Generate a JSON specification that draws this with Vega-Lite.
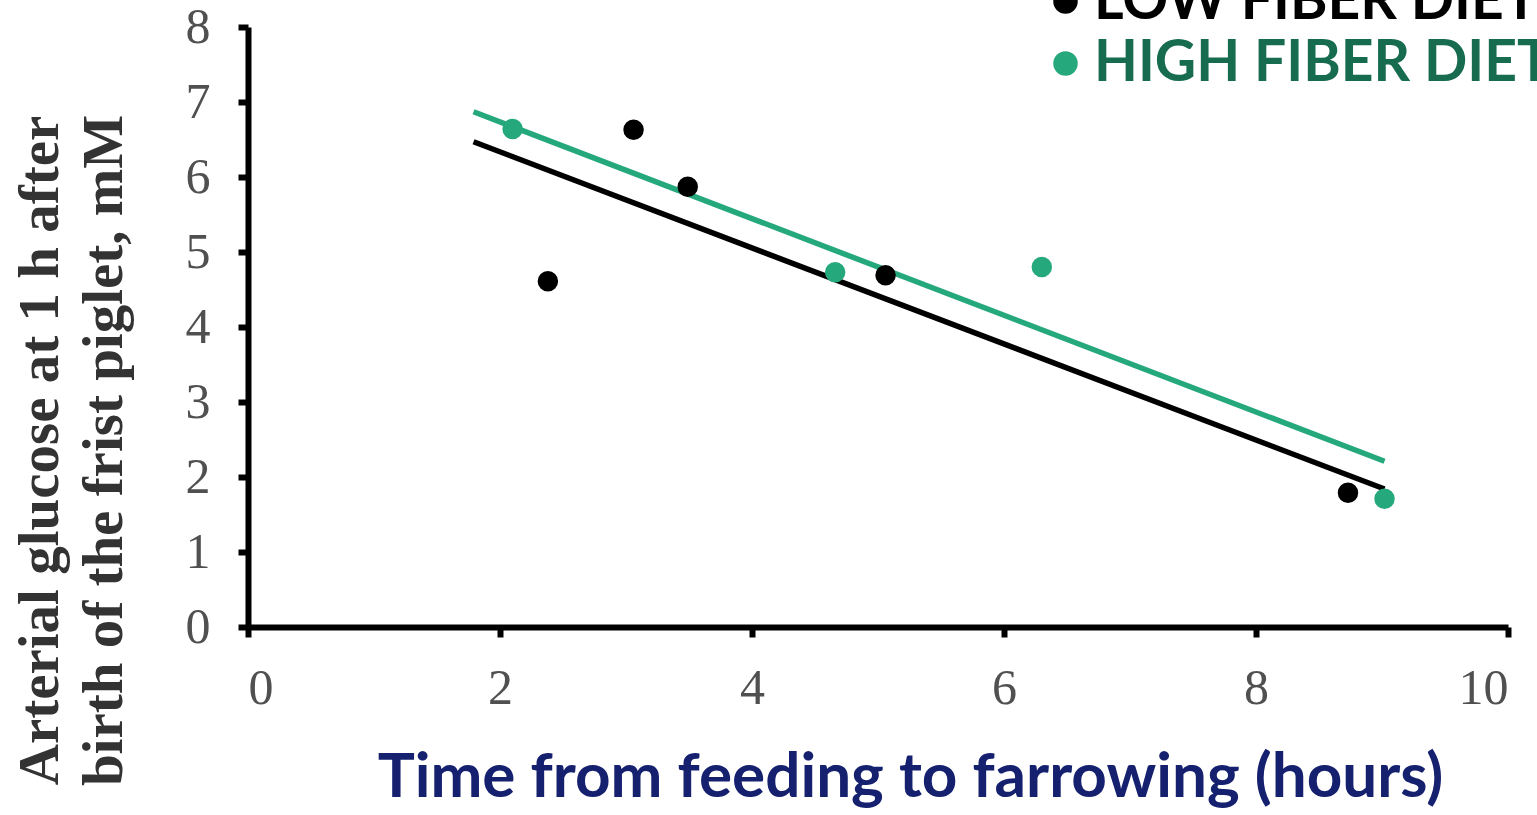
{
  "$schema": "https://vega.github.io/schema/vega-lite/v6.json",
  "width": 1260,
  "height": 600,
  "autosize": "none",
  "padding": {"left": 248, "top": 27, "right": 29, "bottom": 188},
  "background": "white",
  "config": {
    "view": {"stroke": null},
    "axis": {
      "grid": false,
      "domainColor": "#000000",
      "domainWidth": 6,
      "tickColor": "#000000",
      "tickWidth": 6,
      "tickSize": 10,
      "labelFont": "Liberation Serif",
      "labelFontSize": 50,
      "labelColor": "#505050"
    }
  },
  "datasets": {
    "obs": [
      {"hours": 2.38, "glucose": 4.61, "diet": "LOW FIBER DIET"},
      {"hours": 3.06, "glucose": 6.63, "diet": "LOW FIBER DIET"},
      {"hours": 3.49, "glucose": 5.87, "diet": "LOW FIBER DIET"},
      {"hours": 5.06, "glucose": 4.69, "diet": "LOW FIBER DIET"},
      {"hours": 8.73, "glucose": 1.79, "diet": "LOW FIBER DIET"},
      {"hours": 2.1, "glucose": 6.64, "diet": "HIGH FIBER DIET"},
      {"hours": 4.66, "glucose": 4.73, "diet": "HIGH FIBER DIET"},
      {"hours": 6.3, "glucose": 4.8, "diet": "HIGH FIBER DIET"},
      {"hours": 9.02, "glucose": 1.71, "diet": "HIGH FIBER DIET"}
    ],
    "trend": [
      {"hours": 1.79, "glucose": 6.47, "diet": "LOW FIBER DIET"},
      {"hours": 9.02, "glucose": 1.84, "diet": "LOW FIBER DIET"},
      {"hours": 1.79, "glucose": 6.87, "diet": "HIGH FIBER DIET"},
      {"hours": 9.02, "glucose": 2.21, "diet": "HIGH FIBER DIET"}
    ]
  },
  "encoding": {
    "x": {
      "field": "hours",
      "type": "quantitative",
      "scale": {"domain": [0, 10], "nice": false},
      "axis": {
        "values": [0, 2, 4, 6, 8, 10],
        "labelPadding": 26,
        "title": "Time from feeding to farrowing (hours)",
        "titleFont": "Lato",
        "titleFontWeight": "bold",
        "titleFontSize": 62,
        "titleColor": "#15206e",
        "titleAnchor": "middle",
        "titleX": 662,
        "titleY": 150,
        "titleBaseline": "middle"
      }
    },
    "y": {
      "field": "glucose",
      "type": "quantitative",
      "scale": {"domain": [0, 8], "nice": false},
      "axis": {
        "values": [0, 1, 2, 3, 4, 5, 6, 7, 8],
        "labelPadding": 28,
        "title": ["Arterial glucose at 1 h after", "birth of the frist piglet, mM"],
        "titleFont": "Liberation Serif",
        "titleFontWeight": "bold",
        "titleFontSize": 57,
        "titleColor": "#333333",
        "titleLineHeight": 64,
        "titleAngle": -90,
        "titleAlign": "center",
        "titleBaseline": "top",
        "titleX": -236,
        "titleY": 423
      }
    },
    "color": {
      "field": "diet",
      "type": "nominal",
      "scale": {
        "domain": ["LOW FIBER DIET", "HIGH FIBER DIET"],
        "range": ["#000000", "#25a87c"]
      },
      "legend": {
        "title": null,
        "orient": "none",
        "legendX": 789,
        "legendY": -54,
        "symbolType": "circle",
        "symbolSize": 600,
        "symbolOpacity": 1,
        "symbolStrokeWidth": 0,
        "labelFont": "Lato",
        "labelFontWeight": "bold",
        "labelFontSize": 57,
        "labelOffset": 0,
        "labelLimit": 0,
        "rowPadding": 4,
        "encode": {
          "labels": {
            "update": {
              "fill": {"signal": "datum.value === 'HIGH FIBER DIET' ? '#176b4f' : '#000000'"}
            }
          }
        }
      }
    }
  },
  "layer": [
    {
      "data": {"name": "trend"},
      "mark": {"type": "line", "strokeWidth": 5.5},
      "encoding": {
        "detail": {"field": "diet", "type": "nominal"}
      }
    },
    {
      "data": {"name": "obs"},
      "mark": {"type": "point", "filled": true, "size": 420, "opacity": 1},
      "encoding": {}
    }
  ]
}
